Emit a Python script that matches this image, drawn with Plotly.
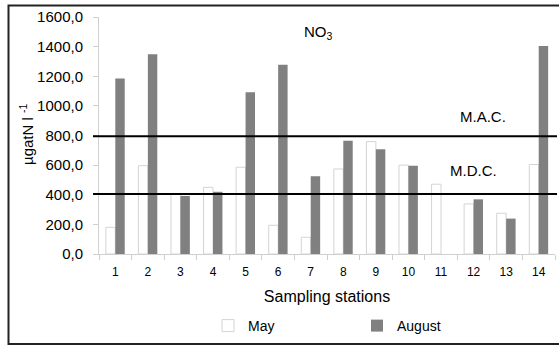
import plotly.graph_objects as go

stations = [str(i) for i in range(1, 15)]
may = [180, 596, 405, 450, 586, 194, 113, 574, 759, 600, 471, 338, 275, 604]
august = [1184, 1349, 392, 420, 1092, 1277, 525, 764, 708, 595, 0, 369, 239, 1405]
y_ticks = [0, 200, 400, 600, 800, 1000, 1200, 1400, 1600]
y_tick_text = ["0,0", "200,0", "400,0", "600,0", "800,0", "1000,0", "1200,0", "1400,0", "1600,0"]
mac_value = 795
mdc_value = 405

font = "Liberation Sans, Arial, sans-serif"

fig = go.Figure()
fig.add_trace(go.Bar(x=stations, y=may, name="May",
                     marker=dict(color="white", line=dict(color="#d4d4d4", width=1))))
fig.add_trace(go.Bar(x=stations, y=august, name="August",
                     marker=dict(color="#808080", line=dict(color="#808080", width=0))))

W, H = 559, 345
ml, mr, mt, mb = 99, 4, 17, 91
pw = W - ml - mr
ph = H - mt - mb

def px2x(x):
    return (x - ml) / pw

def px2y(y):
    return (H - mb - y) / ph

for val in (mac_value, mdc_value):
    fig.add_shape(type="line", xref="paper", yref="y",
                  x0=px2x(93), x1=px2x(557), y0=val, y1=val,
                  line=dict(color="black", width=2))

# outer frame
fig.add_shape(type="rect", xref="paper", yref="paper",
              x0=px2x(8.5), x1=px2x(575), y0=px2y(344), y1=px2y(5.5),
              line=dict(color="#222222", width=2), layer="below")

fig.add_annotation(text="NO<sub>3</sub>", xref="paper", yref="paper",
                   x=px2x(318), y=px2y(21),
                   showarrow=False, font=dict(family=font, size=15, color="black"))
fig.add_annotation(text="M.A.C.", xref="paper", yref="paper",
                   x=px2x(508), y=px2y(117),
                   showarrow=False, font=dict(family=font, size=15, color="black"))
fig.add_annotation(text="M.D.C.", xref="paper", yref="paper",
                   x=px2x(499), y=px2y(170),
                   showarrow=False, font=dict(family=font, size=15, color="black"))
fig.add_annotation(text="µgatN l <sup>-1</sup>", xref="paper", yref="paper",
                   x=px2x(26), y=px2y(135), textangle=-90,
                   xanchor="center", yanchor="middle",
                   showarrow=False, font=dict(family=font, size=15, color="black"))

fig.update_layout(
    width=W, height=H,
    margin=dict(l=ml, r=mr, t=mt, b=mb, autoexpand=False),
    paper_bgcolor="white", plot_bgcolor="white",
    barmode="group", bargap=0.42, bargroupgap=0.0,
    font=dict(family=font, color="black"),
    showlegend=True,
    legend=dict(orientation="h", x=px2x(208), xanchor="left", y=px2y(310), yanchor="top",
                font=dict(family=font, size=14), entrywidth=104, entrywidthmode="pixels",
                bgcolor="rgba(0,0,0,0)",
                traceorder="normal", tracegroupgap=0),
    xaxis=dict(type="category", tickson="boundaries", ticks="outside", ticklen=5,
               tickcolor="#d0d0d0", showline=True, linecolor="#d0d0d0", linewidth=1,
               showgrid=False, tickfont=dict(size=12), ticklabelstandoff=7,
               title=dict(text="Sampling stations", font=dict(size=16), standoff=12)),
    yaxis=dict(range=[0, 1600], tickvals=y_ticks, ticktext=y_tick_text,
               ticks="outside", ticklen=5, tickcolor="#d0d0d0", ticklabelstandoff=7,
               showline=True, linecolor="#d0d0d0", linewidth=1,
               showgrid=False, zeroline=False, tickfont=dict(size=15)),
)

fig.write_html("out.html", config={"displayModeBar": False},
               post_script="document.body.style.margin='0';")
